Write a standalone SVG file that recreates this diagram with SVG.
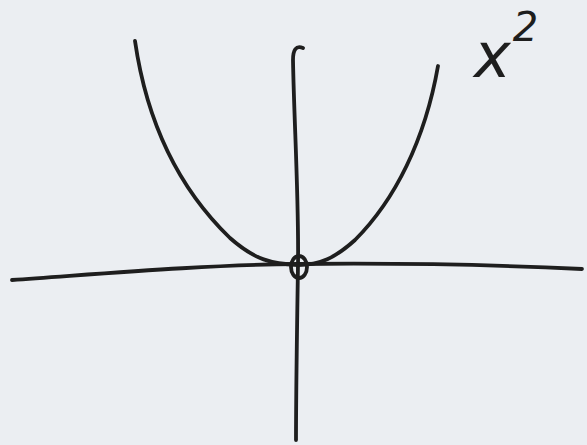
<svg xmlns="http://www.w3.org/2000/svg" width="587" height="445" viewBox="0 0 587 445">
<style>
.s{fill:none;stroke:#1e1e1e;stroke-width:3.8;stroke-linecap:round;stroke-linejoin:round}
.t{font-family:"DejaVu Sans","Liberation Sans",sans-serif;fill:#1e1e1e;font-style:italic}
</style>
<rect width="587" height="445" fill="#ebeef2"/>
<g id="connectors">
<path id="x-axis" class="s" d="M12,280 C100,274 200,265 298,264 C400,263 480,264 582,269"/>
<path id="y-axis" class="s" d="M303,48 C296,45 293,50 293,60 C294,120 299,200 298,265 C297,330 296,390 296,440"/>
<path id="parabola" class="s" d="M135,41 C145,110 170,180 230,238 C255,260 272,264 298,265 C320,265 335,258 355,240 C395,200 425,140 438,66"/>
</g>
<g id="origin">
<ellipse cx="299" cy="267" rx="8" ry="11" class="s" stroke-width="6.5"/>
</g>
<g id="label">
<text class="t" x="474" y="77" font-size="62">x<tspan font-size="40" dx="2" dy="-36">2</tspan></text>
</g>
</svg>
